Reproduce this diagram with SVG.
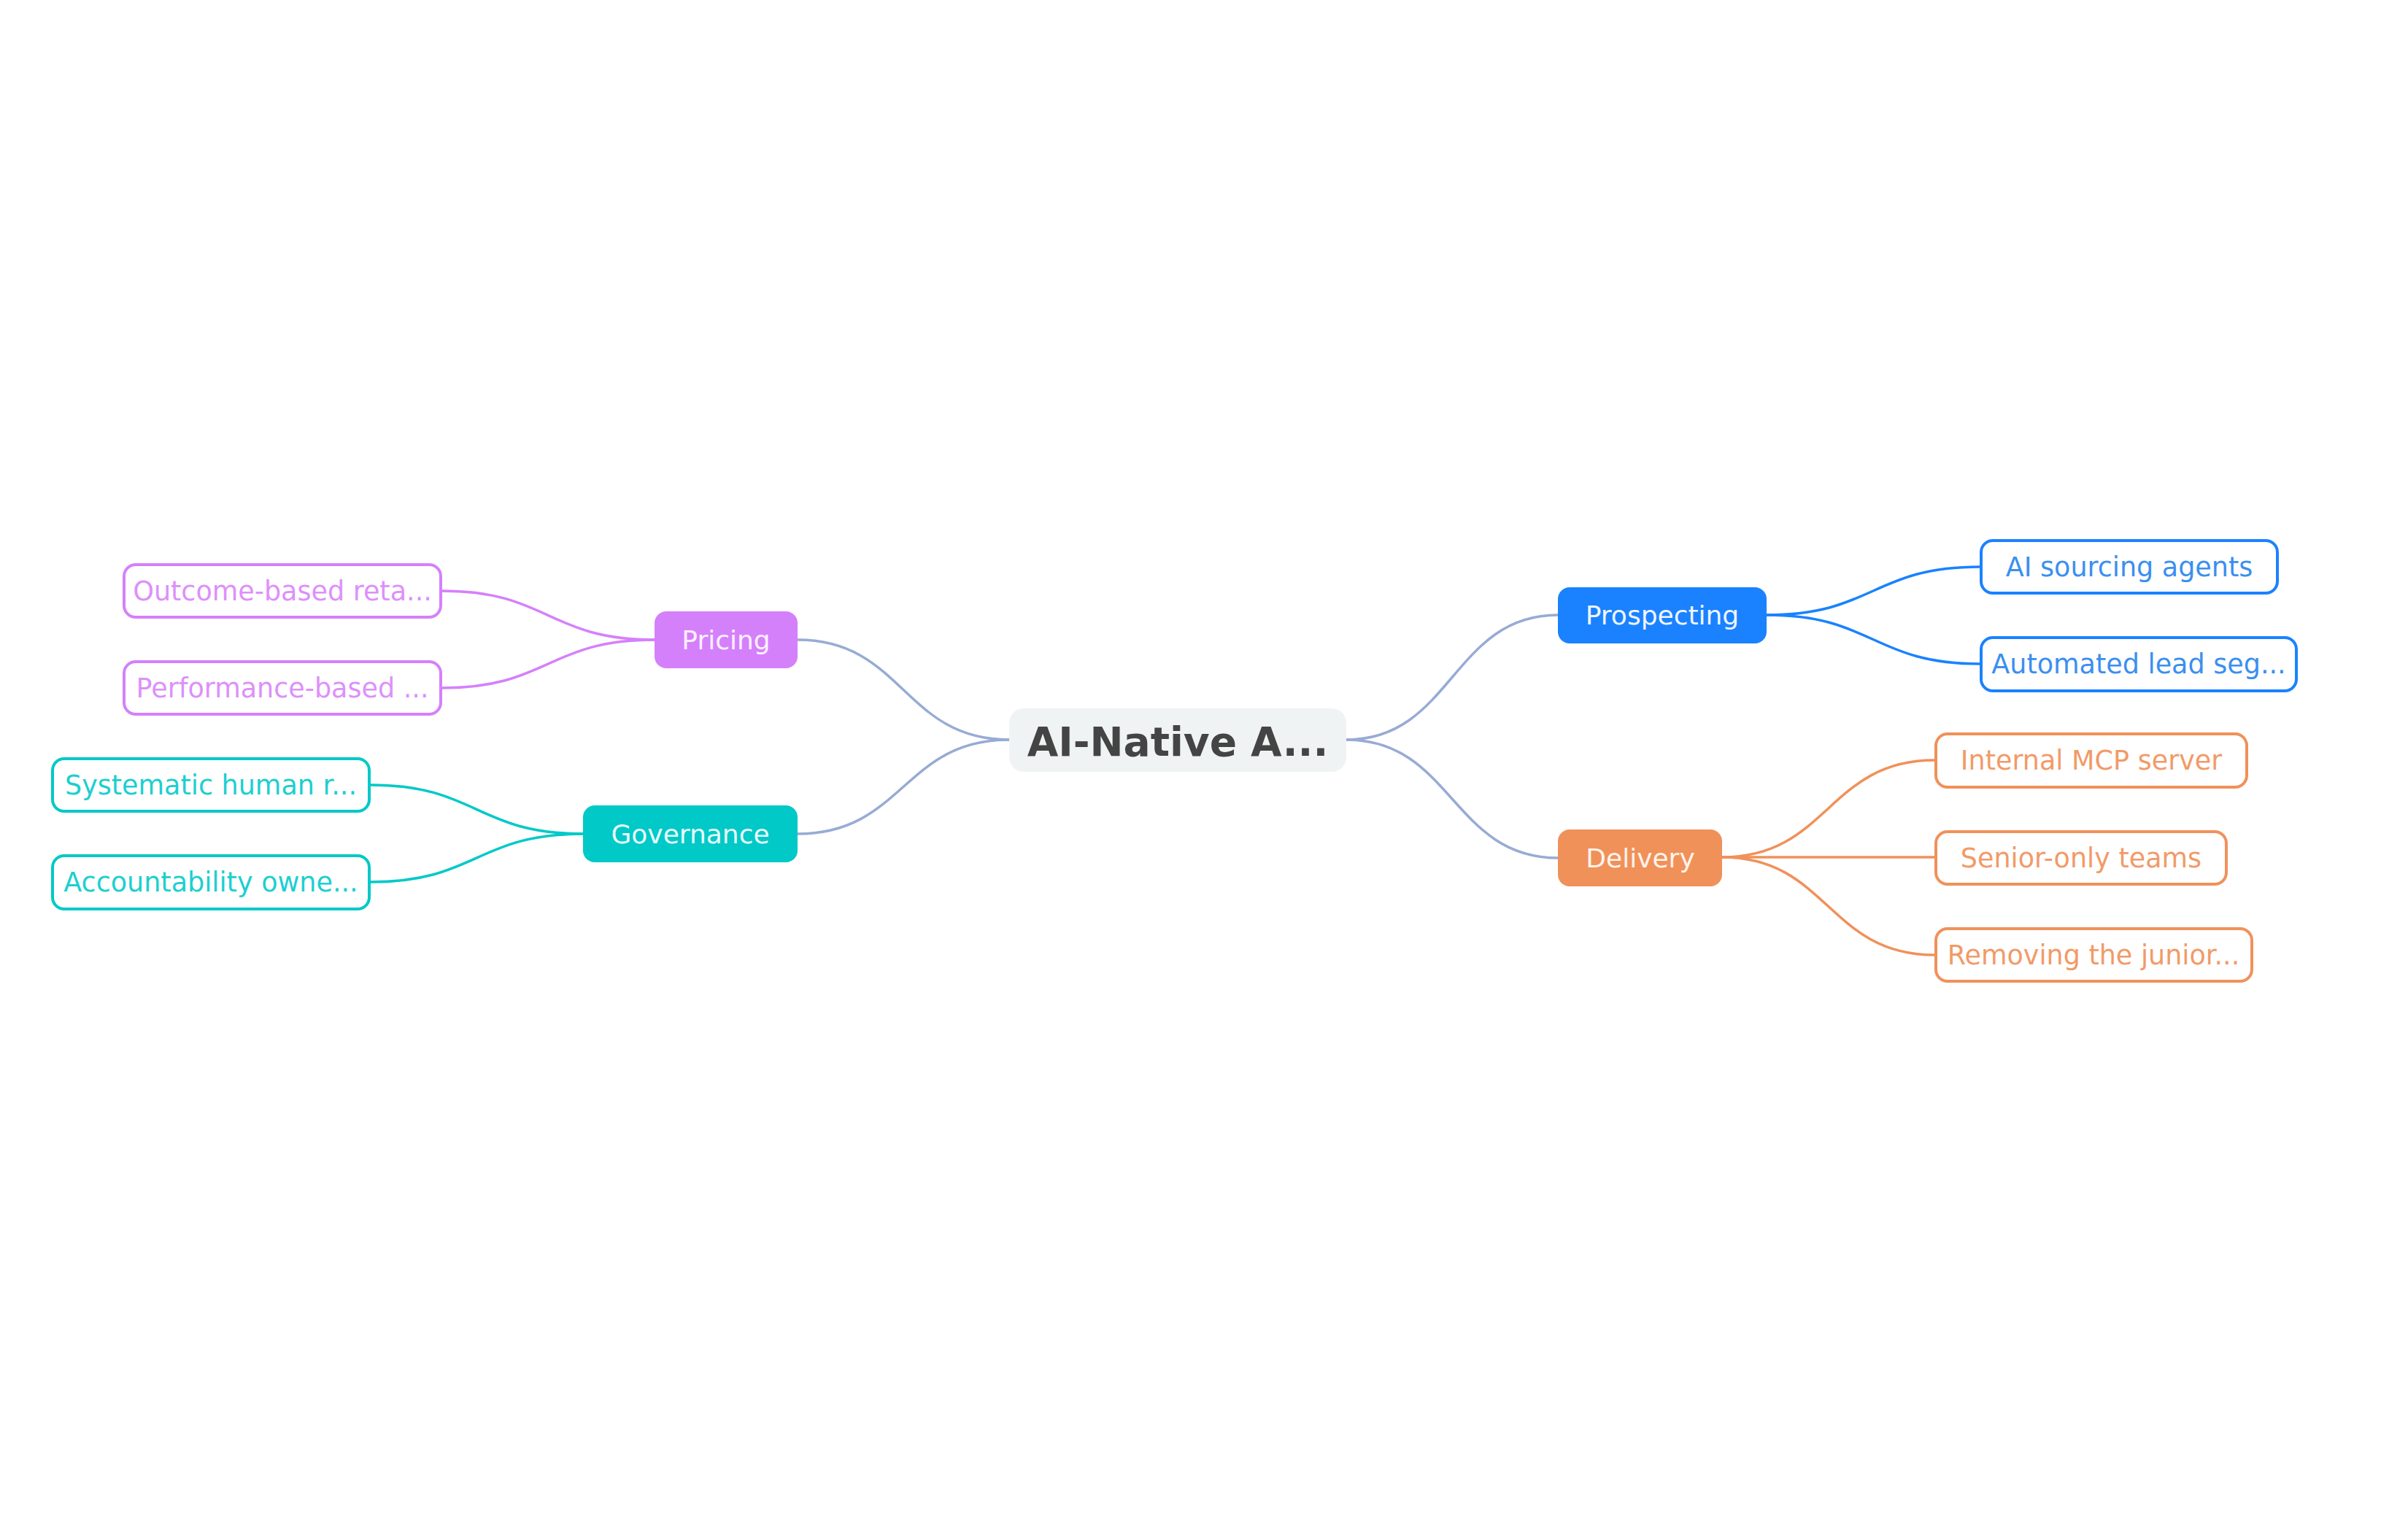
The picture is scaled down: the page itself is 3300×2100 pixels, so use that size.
<svg xmlns="http://www.w3.org/2000/svg" width="3300" height="2100" viewBox="0 0 3300 2100">
<style>
text{font-family:"DejaVu Sans","Liberation Sans",sans-serif;text-anchor:middle;font-size:36px}
.c{fill:none;stroke-width:3.5}
.root{fill:#f0f3f4}
.rt{font-weight:bold;font-size:55px;fill:#444444}
.leaf{fill:#ffffff;stroke-width:4}
.lt{font-size:36.5px}
.bt{fill:#eef5ff}
</style>
<rect width="3300" height="2100" fill="#ffffff"/>
<g id="connectors">
<path class="c" stroke="#97abd4" d="M1845,1014 C1990,1014 1990,843 2135,843"/>
<path class="c" stroke="#97abd4" d="M1845,1014 C1990,1014 1990,1176 2135,1176"/>
<path class="c" stroke="#97abd4" d="M1383,1014 C1238,1014 1238,877 1093,877"/>
<path class="c" stroke="#97abd4" d="M1383,1014 C1238,1014 1238,1143 1093,1143"/>
<path class="c" stroke="#1a82ff" d="M2421,843 C2567,843 2567,777 2713,777"/>
<path class="c" stroke="#1a82ff" d="M2421,843 C2567,843 2567,910 2713,910"/>
<path class="c" stroke="#f0915a" d="M2360,1175 C2505,1175 2505,1042 2651,1042"/>
<path class="c" stroke="#f0915a" d="M2360,1175 L2651,1175"/>
<path class="c" stroke="#f0915a" d="M2360,1175 C2505,1175 2505,1309 2651,1309"/>
<path class="c" stroke="#d580fb" d="M897,877 C751,877 751,810 606,810"/>
<path class="c" stroke="#d580fb" d="M897,877 C751,877 751,943 606,943"/>
<path class="c" stroke="#00c9c8" d="M799,1143 C653,1143 653,1076 508,1076"/>
<path class="c" stroke="#00c9c8" d="M799,1143 C653,1143 653,1209 508,1209"/>
</g>
<g id="root">
<rect class="root" x="1383" y="971" width="462" height="87" rx="20"/>
<text class="rt" x="1614" y="1036">AI-Native A...</text>
</g>
<g id="prospecting">
<rect x="2135" y="805" width="286" height="77" rx="16" fill="#1a82ff"/>
<text class="bt" x="2278" y="856">Prospecting</text>
</g>
<g id="delivery">
<rect x="2135" y="1137" width="225" height="78" rx="16" fill="#f0915a"/>
<text x="2248" y="1189" fill="#fff3ea">Delivery</text>
</g>
<g id="pricing">
<rect x="897" y="838" width="196" height="78" rx="16" fill="#d580fb"/>
<text x="995" y="890" fill="#fbf0ff">Pricing</text>
</g>
<g id="governance">
<rect x="799" y="1104" width="294" height="78" rx="16" fill="#00c9c8"/>
<text x="946" y="1156" fill="#e8fbfb">Governance</text>
</g>
<g id="leaf-ai-sourcing">
<rect class="leaf" stroke="#1a82ff" x="2715" y="741" width="406" height="72" rx="16"/>
<text class="lt" x="2918" y="790" fill="#3a8ff0">AI sourcing agents</text>
</g>
<g id="leaf-automated">
<rect class="leaf" stroke="#1a82ff" x="2715" y="874" width="432" height="73" rx="16"/>
<text class="lt" x="2931" y="923" fill="#3a8ff0">Automated lead seg...</text>
</g>
<g id="leaf-mcp">
<rect class="leaf" stroke="#f0915a" x="2653" y="1006" width="426" height="73" rx="16"/>
<text class="lt" x="2866" y="1055" fill="#f29a68">Internal MCP server</text>
</g>
<g id="leaf-senior">
<rect class="leaf" stroke="#f0915a" x="2653" y="1140" width="398" height="72" rx="16"/>
<text class="lt" x="2852" y="1189" fill="#f29a68">Senior-only teams</text>
</g>
<g id="leaf-removing">
<rect class="leaf" stroke="#f0915a" x="2653" y="1273" width="433" height="72" rx="16"/>
<text class="lt" x="2869" y="1322" fill="#f29a68">Removing the junior...</text>
</g>
<g id="leaf-outcome">
<rect class="leaf" stroke="#d580fb" x="170" y="774" width="434" height="72" rx="16"/>
<text class="lt" x="387" y="823" fill="#dd90fa">Outcome-based reta...</text>
</g>
<g id="leaf-performance">
<rect class="leaf" stroke="#d580fb" x="170" y="907" width="434" height="72" rx="16"/>
<text class="lt" x="387" y="956" fill="#dd90fa">Performance-based ...</text>
</g>
<g id="leaf-systematic">
<rect class="leaf" stroke="#00c9c8" x="72" y="1040" width="434" height="72" rx="16"/>
<text class="lt" x="289" y="1089" fill="#1ccfd0">Systematic human r...</text>
</g>
<g id="leaf-accountability">
<rect class="leaf" stroke="#00c9c8" x="72" y="1173" width="434" height="73" rx="16"/>
<text class="lt" x="289" y="1222" fill="#1ccfd0">Accountability owne...</text>
</g>
</svg>
